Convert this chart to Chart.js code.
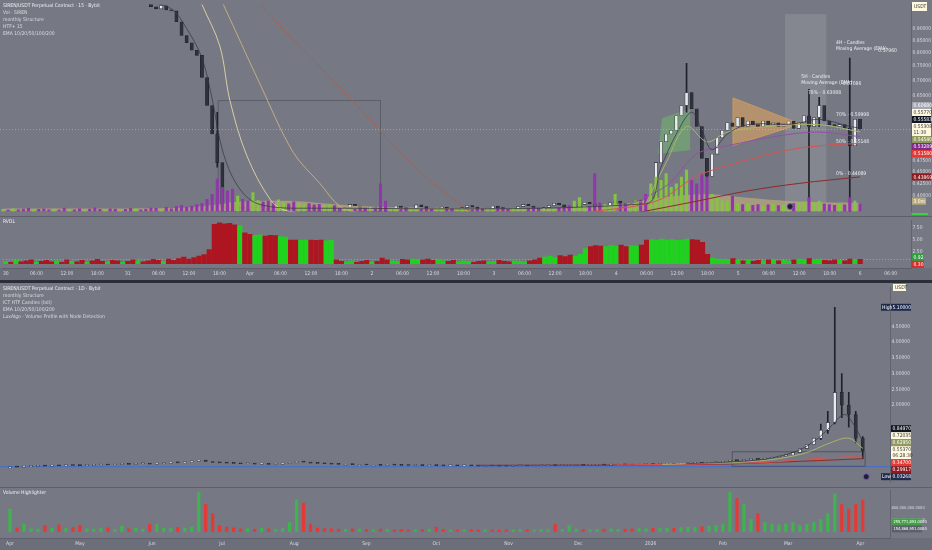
<!DOCTYPE html>
<html>
<head>
<meta charset="utf-8">
<script src="https://cdn.jsdelivr.net/npm/chart.js@4.4.1/dist/chart.umd.min.js"></script>
<style>
  html, body { margin: 0; padding: 0; background: #767984; }
  #wrap { position: relative; width: 932px; height: 550px; overflow: hidden; background: #767984; }
  #wrap canvas { position: absolute; left: 0; }
  .sep { position: absolute; left: 0; width: 932px; }
</style>
</head>
<body>
<div id="wrap">
  <canvas id="top" width="932" height="216" style="top:0px"></canvas>
  <canvas id="rvol" width="932" height="64" style="top:216px"></canvas>
  <div class="sep" style="top:280px;height:3px;background:#2a2e39"></div>
  <canvas id="bot" width="932" height="204" style="top:283px"></canvas>
  <canvas id="vol" width="932" height="63" style="top:487px"></canvas>
</div>
<script>
// ---- upper pane: 15m view, one value per hour starting Mar 30 00:00 ----
const topClose = [
  1.34,1.31,1.36,1.32,1.29,1.27,1.30,1.26,1.24,1.22,1.25,1.21,1.19,1.20,1.17,1.15,1.18,1.16,1.13,1.12,
  1.14,1.10,1.08,1.09,1.07,1.05,1.06,1.04,1.02,
  1.00,0.99,1.005,0.985,0.98,0.93,0.87,0.84,0.81,0.79,0.71,0.62,0.54,0.47,0.38,0.376,
  0.374,0.380,0.376,0.372,0.378,0.383,0.377,0.373,0.371,0.375,
  0.381,0.378,0.373,0.376,0.382,0.379,0.374,0.372,0.377,0.380,
  0.376,0.372,0.378,0.384,0.381,0.375,0.373,0.379,0.377,0.372,
  0.371,0.376,0.381,0.378,0.374,0.377,0.383,0.380,0.375,0.372,
  0.376,0.379,0.375,0.372,0.374,0.378,0.382,0.379,0.375,0.373,
  0.377,0.381,0.378,0.374,0.372,0.376,0.380,0.384,0.381,0.377,
  0.374,0.378,0.382,0.386,0.383,0.379,0.376,0.380,0.384,0.388,
  0.385,0.381,0.378,0.382,0.387,0.390,0.386,0.383,0.387,0.391,
  0.388,0.384,
  0.40,0.47,0.52,0.54,0.55,0.59,0.62,0.66,0.61,0.56,0.48,0.44,0.49,0.53,0.55,0.57,0.56,0.585,0.56,0.575,
  0.565,0.56,0.575,0.565,0.57,0.56,0.565,0.575,0.555,0.57,0.59,0.56,0.585,0.62,0.575,0.565,0.56,0.565,0.555,0.51,
  0.58,0.553
];
// [hour, low, high]
const topWicks = [[42,0.46,0.60],[134,0.60,0.76],[138,0.41,0.48],[158,0.37,0.67],[160,0.56,0.645],[166,0.37,0.78]];
// volume, millions
const topVol = [
  0.6,0.4,0.8,0.5,0.7,0.9,0.4,0.6,0.8,0.5,0.7,0.4,1.0,0.6,0.5,0.8,0.4,0.7,1.1,0.6,
  0.5,0.8,0.7,0.4,0.6,0.9,0.8,0.5,0.7,1.0,0.9,0.6,1.2,0.8,1.5,1.8,1.3,1.6,2.0,2.4,
  3.5,
  5.0,9.5,7.0,6.0,6.5,4.5,3.5,3.0,5.5,3.2,2.8,3.0,2.6,3.4,2.5,2.2,2.8,2.4,2.0,2.3,1.9,2.1,1.8,2.0,1.7,
  0.9,0.7,1.1,0.6,0.8,1.0,0.6,0.7,8.0,3.0,
  0.9,0.7,0.6,0.8,1.1,0.7,0.6,0.9,0.6,1.0,
  0.7,0.6,0.8,0.6,0.9,0.7,0.5,0.6,0.8,0.6,
  0.7,1.0,0.6,0.6,0.9,0.7,0.6,0.8,1.1,0.7,
  0.6,0.9,0.7,1.0,1.2,1.8,3.0,4.0,1.6,1.4,
  11.0,2.5,2.0,1.8,5.0,2.2,1.9,2.4,3.2,2.6,
  5.0,
  8.0,10.0,9.0,11.0,7.0,8.0,10.0,12.0,9.0,8.0,11.0,10.0,5.0,4.0,3.2,3.0,4.5,2.4,2.0,2.2,
  1.8,2.0,1.6,1.9,2.1,1.7,1.8,2.0,2.3,2.5,2.8,4.0,2.6,3.0,2.2,2.0,1.8,2.1,1.9,4.0,
  3.0,2.2
];
const topVolMA = [[0,0.8],[35,1.1],[42,2.0],[46,2.8],[55,3.1],[62,2.5],[70,1.6],[85,1.0],[105,0.9],[115,1.4],[122,2.4],[130,4.2],[138,5.0],[146,4.0],[156,2.9],[168,2.5]];
const topRvol = [
  0.5,0.3,0.7,0.4,0.6,0.8,0.3,0.5,0.7,0.4,0.6,0.3,0.8,0.5,0.4,0.7,0.3,0.6,0.9,0.5,
  0.4,0.7,0.6,0.3,0.5,0.8,0.6,0.4,0.6,0.9,0.7,0.5,1.0,0.7,1.1,1.4,1.0,1.3,1.6,1.9,
  3.0,
  8.3,8.6,8.4,8.5,8.2,8.0,6.5,6.2,6.0,6.1,5.8,6.0,5.9,5.7,5.6,5.0,5.0,4.9,5.0,5.0,4.9,5.0,4.8,4.9,0.8,
  0.5,0.4,0.6,0.3,0.5,0.7,0.4,0.5,1.2,0.8,
  0.6,0.5,0.9,0.8,1.0,0.9,0.8,1.0,0.7,0.9,
  0.6,0.5,0.7,0.4,0.6,0.5,0.3,0.5,0.6,0.4,
  0.5,0.7,0.5,0.4,0.6,0.5,0.4,0.6,0.8,1.2,
  1.4,1.6,1.3,1.7,1.5,1.8,1.6,2.0,3.2,3.6,
  3.8,3.7,3.6,3.8,3.7,3.9,3.6,3.8,3.7,3.9,
  5.0,
  5.1,5.0,5.2,5.0,5.1,4.9,5.0,5.2,5.1,5.0,4.5,2.0,1.2,1.0,0.9,0.8,1.1,0.7,0.6,0.8,
  0.5,0.7,0.6,0.8,0.9,0.6,0.7,0.5,0.8,1.0,0.9,1.1,0.8,1.0,0.7,0.6,0.8,0.7,0.6,1.0,
  0.9,0.92
];
// EMA traces, [hour, price]
const topEmaFast = [[28,1.03],[33,0.99],[36,0.90],[39,0.78],[41,0.64],[43,0.50],[46,0.42],[50,0.385],[60,0.377],[126,0.385],[129,0.46],[132,0.54],[135,0.60],[137,0.55],[139,0.50],[142,0.54],[146,0.565],[155,0.567],[160,0.58],[166,0.56],[168,0.5558]];
const topEmaA = [[36.7,1.16],[39,1.011],[42.5,0.827],[44.5,0.634],[47.8,0.486],[52.4,0.393],[55.3,0.373],[62,0.368]];
const topEmaB = [[40,1.2],[43.2,1.011],[50.4,0.687],[56.9,0.494],[62.2,0.424],[66.1,0.380],[70,0.368]];
const topEmaC = [[45,1.2],[50.4,1.011],[66.1,0.675],[81.8,0.450],[91.6,0.371],[95,0.36]];
const topEma20 = [[126,0.385],[130,0.47],[134,0.56],[138,0.52],[142,0.545],[150,0.56],[160,0.565],[168,0.5454]];
const topEma50 = [[120,0.372],[130,0.42],[136,0.49],[142,0.51],[152,0.535],[160,0.545],[168,0.5329]];
const topEma100 = [[115,0.37],[128,0.39],[136,0.44],[144,0.47],[154,0.50],[162,0.512],[168,0.5158]];
const topEma200 = [[125,0.37],[136,0.39],[146,0.41],[156,0.425],[168,0.4387]];
const topTicks = [0.90,0.85,0.80,0.75,0.70,0.65,0.60,0.55,0.50,0.475,0.45,0.425,0.40];
const topTimeHours = [0,6,12,18,24,30,36,42,48,54,60,66,72,78,84,90,96,102,108,114,120,126,132,138,144,150,156,162,168,174];
const topTimeLabels = ['30','06:00','12:00','18:00','31','06:00','12:00','18:00','Apr','06:00','12:00','18:00','2','06:00','12:00','18:00','3','06:00','12:00','18:00','4','06:00','12:00','18:00','5','06:00','12:00','18:00','6','06:00'];
const topTags = [
  {v:0.6068, text:'0.60680', bg:'#a4a7b0', fg:'#ffffff'},
  {v:0.5577, text:'0.55770', bg:'#fff8e1', fg:'#333333'},
  {v:0.55583, text:'0.55583', bg:'#131722', fg:'#ffffff'},
  {v:0.55308, text:'0.55308', sub:'11:30', bg:'#fff8e1', fg:'#333333'},
  {v:0.5454, text:'0.54540', bg:'#8f9a5c', fg:'#ffffff'},
  {v:0.53289, text:'0.53289', bg:'#7e2a8a', fg:'#ffffff'},
  {v:0.5158, text:'0.51580', bg:'#e53935', fg:'#ffffff'},
  {v:0.43869, text:'0.43869', bg:'#8e1b1f', fg:'#ffffff'}
];
const topNotes = [
  [156.5,0.713,'5H - Candles'],[156.5,0.693,'Moving Average (EMA)'],[164.6,0.690,'0.57086'],
  [163.3,0.839,'4H - Candles'],[163.3,0.816,'Moving Average (EMA)'],[171.6,0.808,'0.57960'],
  [157.8,0.660,'78% - 0.63088'],[163.3,0.592,'70% - 0.59998'],[163.3,0.520,'50% - 0.55148'],[163.3,0.445,'0% - 0.44089']
];
const topSession = [153.3,161.4,0.371,0.965];
const topGreenZone = [[128.4,0.49],[129.2,0.583],[134.7,0.61],[134.7,0.50]];
const topTriangle = [[143.1,0.643],[143.1,0.511],[156.3,0.567]];
const topStructBox = [42.2,74,0.371,0.635];
const topLegend = ['SIREN/USDT Perpetual Contract · 15 · Bybit','Vol · SIREN','monthly Structure','HTF+ 15','EMA 10/20/50/100/200'];

// ---- lower pane: 1D view, one value per 3 days starting Apr 1 2025 ----
const botClose = [
  0.04,0.035,0.05,0.06,0.07,0.065,0.08,0.075,0.09,0.085,
  0.08,0.09,0.10,0.11,0.10,0.12,0.13,0.12,0.14,0.15,
  0.13,0.14,0.16,0.18,0.17,0.20,0.22,0.26,0.21,0.18,
  0.17,0.16,0.15,0.14,0.15,0.13,0.14,0.12,0.13,0.15,
  0.17,0.22,0.19,0.16,0.15,0.14,0.13,0.12,0.12,0.11,
  0.11,0.10,0.10,0.09,0.10,0.095,0.09,0.085,0.09,0.08,
  0.085,0.08,0.075,0.08,0.07,0.075,0.07,0.065,0.07,0.068,
  0.066,0.065,0.07,0.072,0.068,0.07,0.075,0.08,0.078,0.082,
  0.085,0.09,0.088,0.092,0.10,0.095,0.10,0.11,0.105,0.10,
  0.11,0.12,0.115,0.12,0.13,0.125,0.14,0.15,0.16,0.15,
  0.17,0.18,0.22,0.25,0.24,0.27,0.30,0.28,0.32,0.35,
  0.38,0.42,0.50,0.62,0.75,0.95,1.20,1.45,2.40,2.00,
  1.70,0.95,0.553
];
const botWicks = [[348,0.9,1.4],[351,1.1,1.8],[354,1.4,5.1],[357,1.6,3.0],[360,1.3,2.4],[363,0.8,1.8],[366,0.30,1.0]];
const botVol = [
  750,120,250,90,80,200,110,220,100,140,
  210,90,80,100,120,70,180,90,110,80,
  250,230,120,100,140,110,160,1300,900,600,
  200,150,120,90,100,80,110,90,70,100,
  300,1050,950,250,120,100,90,80,70,90,
  80,70,60,80,70,60,70,50,60,70,
  80,150,70,60,50,60,70,50,60,55,
  50,60,55,70,60,55,65,60,250,70,
  200,80,70,60,70,80,90,70,80,90,
  100,90,110,100,120,110,130,150,140,160,
  180,200,250,1300,1100,900,400,600,300,250,
  220,250,300,200,240,300,400,600,1250,900,
  750,900,1050
];
const botEma10 = [[290,0.14],[310,0.2],[325,0.3],[338,0.55],[346,0.9],[352,1.3],[358,1.7],[362,1.4],[366,0.8497]];
const botEma20 = [[280,0.12],[320,0.22],[340,0.45],[352,0.8],[360,0.95],[366,0.63]];
const botEma100 = [[260,0.1],[320,0.17],[345,0.3],[360,0.36],[366,0.347]];
const botEma200 = [[200,0.09],[300,0.12],[340,0.22],[366,0.299]];
const botTicks = [2.0,2.5,3.0,3.5,4.0,4.5];
const botMonthDays = [0,30,61,91,122,153,183,214,244,275,306,334,365];
const botMonthLabels = ['Apr','May','Jun','Jul','Aug','Sep','Oct','Nov','Dec','2026','Feb','Mar','Apr'];
const botTags = [
  {v:5.1, text:'5.10000', pre:'High', bg:'#1f2b4d', fg:'#ffffff'},
  {v:0.8497, text:'0.84970', bg:'#131722', fg:'#ffffff'},
  {v:0.72035, text:'0.72035', bg:'#fff8e1', fg:'#333333'},
  {v:0.6295, text:'0.62950', bg:'#8f9a5c', fg:'#ffffff'},
  {v:0.5537, text:'0.55370', sub:'06:28:30', bg:'#fff8e1', fg:'#333333'},
  {v:0.347, text:'0.34700', bg:'#e53935', fg:'#ffffff'},
  {v:0.29917, text:'0.29917', bg:'#8e1b1f', fg:'#ffffff'},
  {v:0.03268, text:'0.03268', pre:'Low', bg:'#1f2b4d', fg:'#ffffff'}
];
const botBlueLevel = 0.06;
const botBox = [310,367,0.06,0.52];
const botLegend = ['SIREN/USDT Perpetual Contract · 1D · Bybit','monthly Structure','ICT HTF Candles (bdi)','EMA 10/20/50/100/200','LuxAlgo - Volume Profile with Node Detection'];
const volTicks = [400,800];
const volTags = [
  {v:255.77, text:'255,771,893.0000', bg:'#43a047', fg:'#ffffff'},
  {v:154.87, text:'154,868,951.0000', bg:'#5d606b', fg:'#ffffff'}
];
const rvolTicks = [2.5,5.0,7.5];
const rvolTags = [
  {v:0.92, text:'0.92', bg:'#2e9e3e', fg:'#ffffff'},
  {v:0.30, text:'0.30', bg:'#d32f2f', fg:'#ffffff'}
];

// ---- helpers ----
const FONT = '"Liberation Sans Narrow", "DejaVu Sans Condensed", "Liberation Sans", Arial, sans-serif';
const TXT = '#d9dbe1';
const UP = '#e8eaef', DOWN = '#2f323c', EDGE = '#1e222d';
Chart.defaults.font.family = FONT;
Chart.defaults.animation = false;

const pts = arr => arr.map(p => ({ x: p[0], y: p[1] }));
const ups = closes => closes.map((c, i) => i === 0 || c >= closes[i - 1]);
const candles = (xs, closes) => xs.map((x, i) => ({ x, y: [i ? closes[i - 1] : closes[i], closes[i]] }));
const wickBars = list => list.map(w => ({ x: w[0], y: [w[1], w[2]] }));
const emaLine = (data, color, yAxisID) => ({
  type: 'line', data: pts(data), borderColor: color, borderWidth: 1, pointRadius: 0,
  tension: 0.35, fill: false, order: 1, yAxisID: yAxisID || 'y'
});

function drawTags(ctx, scale, tags, x0, w, size) {
  const items = tags.map(t => ({ ...t, h: t.sub ? 13 : 7, c: scale.getPixelForValue(t.v) }))
    .sort((a, b) => a.c - b.c);
  for (let k = 0; k < 80; k++) {
    for (let i = 1; i < items.length; i++) {
      const a = items[i - 1], b = items[i];
      const need = (a.h + b.h) / 2 - (b.c - a.c);
      if (need > 0) { a.c -= need / 2; b.c += need / 2; }
    }
  }
  ctx.save();
  ctx.font = (size || 5) + 'px ' + FONT;
  ctx.textBaseline = 'middle';
  ctx.textAlign = 'left';
  items.forEach(t => {
    ctx.fillStyle = t.bg;
    ctx.fillRect(x0, t.c - t.h / 2, w, t.h);
    if (t.pre) {
      ctx.fillRect(x0 - 10, t.c - t.h / 2, 9, t.h);
      ctx.fillStyle = t.fg;
      ctx.fillText(t.pre, x0 - 9, t.c + 0.5);
    }
    ctx.fillStyle = t.fg;
    if (t.sub) {
      ctx.fillText(t.text, x0 + 1.5, t.c - 2.8);
      ctx.fillText(t.sub, x0 + 1.5, t.c + 3.4);
    } else {
      ctx.fillText(t.text, x0 + 1.5, t.c + 0.5);
    }
  });
  ctx.restore();
}

function drawLegend(ctx, lines, y0) {
  ctx.save();
  ctx.font = '5px ' + FONT;
  ctx.textBaseline = 'middle';
  ctx.textAlign = 'left';
  lines.forEach((s, i) => {
    ctx.fillStyle = i === 0 ? '#eef0f4' : TXT;
    ctx.fillText(s, 3, y0 + i * 7);
  });
  ctx.restore();
}

function smallBox(ctx, x, y, w, h, bg, fg, s) {
  ctx.save();
  ctx.fillStyle = bg;
  ctx.fillRect(x, y, w, h);
  ctx.fillStyle = fg;
  ctx.font = '5px ' + FONT;
  ctx.textBaseline = 'middle';
  ctx.fillText(s, x + 2, y + h / 2 + 0.5);
  ctx.restore();
}

function poly(ctx, chart, list, fill, stroke) {
  const xs = chart.scales.x, ys = chart.scales.y;
  ctx.beginPath();
  list.forEach((p, i) => {
    const X = xs.getPixelForValue(p[0]), Y = ys.getPixelForValue(p[1]);
    if (i) ctx.lineTo(X, Y); else ctx.moveTo(X, Y);
  });
  ctx.closePath();
  if (fill) { ctx.fillStyle = fill; ctx.fill(); }
  if (stroke) { ctx.strokeStyle = stroke; ctx.lineWidth = 1; ctx.stroke(); }
}

function rectData(chart, r) {
  const xs = chart.scales.x, ys = chart.scales.y;
  const x1 = xs.getPixelForValue(r[0]), x2 = xs.getPixelForValue(r[1]);
  const y1 = ys.getPixelForValue(r[3]), y2 = ys.getPixelForValue(r[2]);
  return [x1, y1, x2 - x1, y2 - y1];
}

const baseOpts = {
  responsive: false,
  devicePixelRatio: 1,
  animation: false,
  layout: { padding: 0, autoPadding: false },
  plugins: { legend: { display: false }, tooltip: { enabled: false } }
};
const axisTicks = { color: TXT, font: { size: 5, family: FONT }, autoSkip: false, maxRotation: 0, padding: 1.5 };
const noGrid = { display: false, drawTicks: false };

// ---- upper price pane ----
const topHours = topClose.map((_, i) => i);
const topUp = ups(topClose);
new Chart(document.getElementById('top'), {
  type: 'bar',
  data: {
    datasets: [
      emaLine(topEmaFast, 'rgba(55,58,68,0.75)'),
      emaLine(topEmaA, '#d8cda4'),
      emaLine(topEmaB, '#c2ad83'),
      emaLine(topEmaC, '#a6624f'),
      emaLine(topEma20, '#a9b46a'),
      emaLine(topEma50, '#9450a8'),
      emaLine(topEma100, '#d9534f'),
      emaLine(topEma200, '#8e2a2a'),
      { data: topVol.map((v, i) => ({ x: topHours[i], y: v })), yAxisID: 'v',
        backgroundColor: topUp.map(u => u ? '#84c441' : '#9236ad'), barThickness: 2.4, grouped: false, order: 2 },
      { type: 'line', data: pts(topVolMA), yAxisID: 'v', fill: 'start', backgroundColor: 'rgba(208,184,122,0.55)',
        borderWidth: 0, pointRadius: 0, tension: 0.4, order: 3 },
      { data: candles(topHours, topClose), backgroundColor: topUp.map(u => u ? UP : DOWN),
        borderColor: EDGE, borderWidth: 0.6, borderSkipped: false, barThickness: 3.2, minBarLength: 1, grouped: false, order: 4 },
      { data: wickBars(topWicks), backgroundColor: EDGE, barThickness: 1, grouped: false, order: 5 }
    ]
  },
  options: {
    ...baseOpts,
    scales: {
      x: { type: 'linear', min: -0.59, max: 178, offset: false, display: false },
      y: {
        type: 'logarithmic', position: 'right', min: 0.371, max: 1.011,
        afterFit: s => { s.width = 21; },
        afterBuildTicks: s => { s.ticks = topTicks.map(v => ({ value: v })); },
        ticks: { ...axisTicks, callback: v => Number(v).toFixed(5) },
        grid: noGrid, border: { color: '#60636e' }
      },
      v: { type: 'linear', display: false, min: 0, max: 60 }
    }
  },
  plugins: [{
    id: 'topDraw',
    beforeDatasetsDraw(chart) {
      const ctx = chart.ctx, a = chart.chartArea;
      ctx.save();
      ctx.beginPath(); ctx.rect(a.left, a.top, a.right - a.left, a.bottom - a.top); ctx.clip();
      const r = rectData(chart, topSession);
      ctx.fillStyle = 'rgba(255,255,255,0.10)';
      ctx.fillRect(r[0], r[1], r[2], r[3]);
      const s = rectData(chart, topStructBox);
      ctx.strokeStyle = 'rgba(70,72,82,0.55)'; ctx.lineWidth = 1;
      ctx.strokeRect(s[0], s[1], s[2], s[3]);
      poly(ctx, chart, topGreenZone, 'rgba(112,190,104,0.5)', null);
      poly(ctx, chart, topTriangle, 'rgba(214,160,98,0.65)', '#c89a62');
      ctx.restore();
    },
    afterDatasetsDraw(chart) {
      const ctx = chart.ctx, a = chart.chartArea, xs = chart.scales.x, ys = chart.scales.y;
      ctx.save();
      const py = ys.getPixelForValue(topClose[topClose.length - 1]);
      ctx.strokeStyle = 'rgba(240,240,245,0.35)'; ctx.setLineDash([1, 2]); ctx.lineWidth = 1;
      ctx.beginPath(); ctx.moveTo(a.left, py + 0.5); ctx.lineTo(a.right, py + 0.5); ctx.stroke();
      ctx.setLineDash([]);
      ctx.font = '5px ' + FONT; ctx.fillStyle = '#eceef2'; ctx.textBaseline = 'middle'; ctx.textAlign = 'left';
      topNotes.forEach(n => ctx.fillText(n[2], xs.getPixelForValue(n[0]), ys.getPixelForValue(n[1])));
      ctx.beginPath();
      ctx.arc(xs.getPixelForValue(154.3), ys.getPixelForValue(0.38), 3, 0, Math.PI * 2);
      ctx.fillStyle = '#1e222d'; ctx.fill(); ctx.strokeStyle = '#7e57c2'; ctx.stroke();
      ctx.restore();
    },
    afterDraw(chart) {
      const ctx = chart.ctx;
      drawLegend(ctx, topLegend, 6);
      drawTags(ctx, chart.scales.y, topTags, 912, 19);
      drawTags(ctx, chart.scales.v, [{ v: 3.0, text: '3.0m', bg: '#b9ab7f', fg: '#ffffff' }], 912, 14);
      smallBox(ctx, 912, 2, 15, 9, '#fff8e1', '#333333', 'USDT');
      ctx.fillStyle = '#3fd13f'; ctx.fillRect(912, 213, 16, 2);
    }
  }]
});

// ---- RVOL pane with the upper time axis ----
new Chart(document.getElementById('rvol'), {
  type: 'bar',
  data: {
    datasets: [{
      data: topRvol.map((v, i) => ({ x: topHours[i], y: v })),
      backgroundColor: topUp.map(u => u ? '#1ed21e' : '#ad1620'),
      barThickness: 4.6, grouped: false
    }]
  },
  options: {
    ...baseOpts,
    scales: {
      x: {
        type: 'linear', min: -0.59, max: 178, offset: false, position: 'bottom',
        afterFit: s => { s.height = 12; },
        afterBuildTicks: s => { s.ticks = topTimeHours.map(v => ({ value: v })); },
        ticks: { ...axisTicks, padding: 3, callback: (v, i) => topTimeLabels[i] },
        grid: noGrid, border: { color: '#5d606b' }
      },
      y: {
        type: 'linear', position: 'right', min: -0.9, max: 9.1,
        afterFit: s => { s.width = 21; },
        afterBuildTicks: s => { s.ticks = rvolTicks.map(v => ({ value: v })); },
        ticks: { ...axisTicks, callback: v => Number(v).toFixed(2) },
        grid: noGrid, border: { color: '#60636e' }
      }
    }
  },
  plugins: [{
    id: 'rvolDraw',
    beforeDraw(chart) {
      const ctx = chart.ctx, a = chart.chartArea;
      ctx.save();
      ctx.fillStyle = '#6c6f7a';
      ctx.fillRect(0, a.bottom, chart.width, chart.height - a.bottom);
      ctx.fillStyle = '#5d606b';
      ctx.fillRect(0, 0, chart.width, 1);
      ctx.restore();
    },
    beforeDatasetsDraw(chart) {
      const ctx = chart.ctx, a = chart.chartArea, y = chart.scales.y.getPixelForValue(1);
      ctx.save();
      ctx.strokeStyle = 'rgba(210,212,220,0.45)'; ctx.setLineDash([1, 2]);
      ctx.beginPath(); ctx.moveTo(a.left, y + 0.5); ctx.lineTo(a.right, y + 0.5); ctx.stroke();
      ctx.restore();
    },
    afterDraw(chart) {
      drawLegend(chart.ctx, ['RVOL'], 6);
      drawTags(chart.ctx, chart.scales.y, rvolTags, 912, 12);
    }
  }]
});

// ---- lower price pane ----
const botDays = botClose.map((_, i) => i * 3);
const botUp = ups(botClose);
new Chart(document.getElementById('bot'), {
  type: 'bar',
  data: {
    datasets: [
      emaLine(botEma10, 'rgba(55,58,68,0.8)'),
      emaLine(botEma20, '#a9b46a'),
      emaLine(botEma100, '#d9534f'),
      emaLine(botEma200, '#8e2a2a'),
      { data: candles(botDays, botClose), backgroundColor: botUp.map(u => u ? UP : DOWN),
        borderColor: EDGE, borderWidth: 0.6, borderSkipped: false, barThickness: 3.2, minBarLength: 1, grouped: false, order: 4 },
      { data: wickBars(botWicks), backgroundColor: EDGE, barThickness: 1, grouped: false, order: 5 }
    ]
  },
  options: {
    ...baseOpts,
    scales: {
      x: { type: 'linear', min: -4.29, max: 377.7, offset: false, display: false },
      y: {
        type: 'linear', position: 'right', min: -0.4545, max: 5.727,
        afterFit: s => { s.width = 42; },
        afterBuildTicks: s => { s.ticks = botTicks.map(v => ({ value: v })); },
        ticks: { ...axisTicks, callback: v => Number(v).toFixed(5) },
        grid: noGrid, border: { color: '#60636e' }
      }
    }
  },
  plugins: [{
    id: 'botDraw',
    beforeDatasetsDraw(chart) {
      const ctx = chart.ctx, a = chart.chartArea, ys = chart.scales.y;
      ctx.save();
      const y = ys.getPixelForValue(botBlueLevel);
      ctx.strokeStyle = '#3f6fd8'; ctx.lineWidth = 1;
      ctx.beginPath(); ctx.moveTo(a.left, y + 0.5); ctx.lineTo(a.right, y + 0.5); ctx.stroke();
      const r = rectData(chart, botBox);
      ctx.strokeStyle = 'rgba(60,62,72,0.6)';
      ctx.strokeRect(r[0], r[1], r[2], r[3]);
      ctx.restore();
    },
    afterDatasetsDraw(chart) {
      const ctx = chart.ctx, xs = chart.scales.x, ys = chart.scales.y;
      ctx.save();
      ctx.beginPath();
      ctx.arc(xs.getPixelForValue(367.5), ys.getPixelForValue(-0.27), 3, 0, Math.PI * 2);
      ctx.fillStyle = '#1e222d'; ctx.fill(); ctx.strokeStyle = '#7e57c2'; ctx.stroke();
      ctx.restore();
    },
    afterDraw(chart) {
      const ctx = chart.ctx;
      drawLegend(ctx, botLegend, 6);
      drawTags(ctx, chart.scales.y, botTags, 891, 20);
      smallBox(ctx, 893, 1, 13, 7, '#fff8e1', '#333333', 'USDT');
    }
  }]
});

// ---- volume pane with the lower time axis ----
new Chart(document.getElementById('vol'), {
  type: 'bar',
  data: {
    datasets: [{
      data: botVol.map((v, i) => ({ x: botDays[i], y: v })),
      backgroundColor: botUp.map(u => u ? '#3fb34f' : '#e53935'),
      barThickness: 2.6, grouped: false
    }]
  },
  options: {
    ...baseOpts,
    scales: {
      x: {
        type: 'linear', min: -4.29, max: 377.7, offset: false, position: 'bottom',
        afterFit: s => { s.height = 12; },
        afterBuildTicks: s => { s.ticks = botMonthDays.map(v => ({ value: v })); },
        ticks: { ...axisTicks, padding: 3, callback: (v, i) => botMonthLabels[i] },
        grid: noGrid, border: { color: '#5d606b' }
      },
      y: {
        type: 'linear', position: 'right', min: -215, max: 1354,
        afterFit: s => { s.width = 42; },
        afterBuildTicks: s => { s.ticks = volTicks.map(v => ({ value: v })); },
        ticks: { ...axisTicks, font: { size: 4, family: FONT }, callback: v => (v * 1e6).toLocaleString('en-US') + '.0000' },
        grid: noGrid, border: { color: '#60636e' }
      }
    }
  },
  plugins: [{
    id: 'volDraw',
    beforeDraw(chart) {
      const ctx = chart.ctx, a = chart.chartArea;
      ctx.save();
      ctx.fillStyle = '#6c6f7a';
      ctx.fillRect(0, a.bottom, chart.width, chart.height - a.bottom);
      ctx.fillStyle = '#5d606b';
      ctx.fillRect(0, 0, chart.width, 1);
      ctx.restore();
    },
    afterDraw(chart) {
      drawLegend(chart.ctx, ['Volume Highlighter'], 6);
      drawTags(chart.ctx, chart.scales.y, volTags, 892, 30, 4);
    }
  }]
});
</script>
</body>
</html>
